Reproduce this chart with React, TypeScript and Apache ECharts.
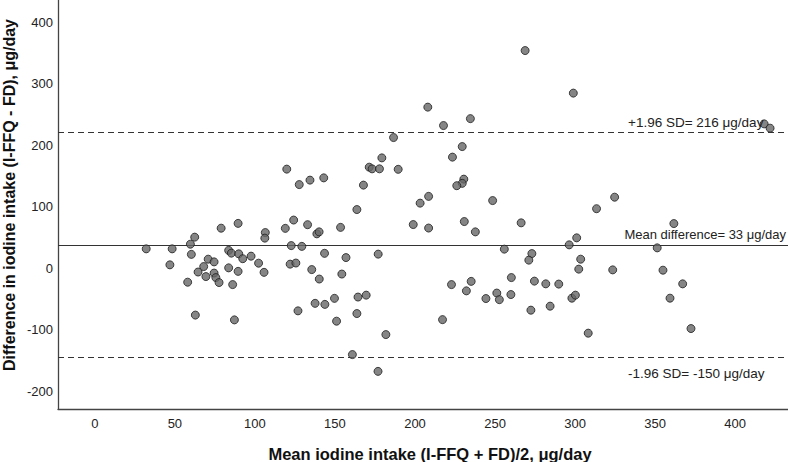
import React, { useEffect, useRef } from "react";
import * as echarts from "echarts";

// Mean iodine intake (x) and difference (y), μg/day
const meanIntake: number[] = [
  32.1, 48.3, 46.9, 58.0, 59.7, 62.4, 60.3, 62.8, 70.8, 74.5,
  68.0, 64.5, 69.4, 74.5, 75.6, 77.6, 78.9, 89.5, 83.6, 85.3,
  89.9, 92.4, 97.6, 102.3, 83.6, 89.5, 105.7, 86.1, 87.2, 106.5,
  106.2, 119.9, 127.7, 134.4, 143.0, 171.4, 173.2, 177.8, 179.3, 189.5,
  167.8, 163.7, 198.9, 119.0, 124.2, 132.9, 138.7, 140.1, 153.5, 122.7,
  129.3, 143.5, 156.9, 177.0, 122.0, 125.6, 135.5, 140.2, 154.3, 126.9,
  137.6, 143.7, 149.7, 164.4, 169.5, 163.7, 151.0, 181.8, 160.9, 176.9,
  186.6, 208.0, 217.8, 234.6, 229.5, 223.4, 230.5, 229.5, 226.1, 208.5,
  203.2, 248.5, 208.5, 230.8, 237.7, 266.3, 255.8, 273.0, 271.1, 296.3,
  301.0, 303.5, 302.3, 222.8, 235.1, 232.1, 244.3, 251.1, 252.7, 260.2,
  259.9, 274.6, 281.7, 289.8, 298.0, 300.2, 272.4, 284.4, 217.2, 308.2,
  313.4, 324.7, 323.5, 351.3, 361.7, 354.9, 367.2, 359.3, 372.4, 268.8,
  298.9, 418.1, 421.8,
];
const difference: number[] = [
  31.4, 31.4, 5.4, -22.8, 39.0, 50.4, 22.4, -76.3, 14.6, 10.2,
  2.6, -6.3, -13.7, -8.0, -15.3, -23.4, 65.0, 72.8, 28.9, 24.4,
  23.3, 15.4, 19.5, 8.1, 0.5, -5.2, -6.8, -26.7, -84.1, 57.9,
  48.8, 161.0, 135.9, 143.1, 146.8, 164.2, 161.5, 161.5, 179.3, 160.7,
  135.0, 95.3, 70.9, 64.7, 78.2, 70.7, 55.8, 59.0, 66.3, 36.7,
  35.4, 24.1, 17.2, 22.8, 6.5, 8.3, -2.3, -17.7, -9.6, -69.4,
  -57.2, -58.9, -49.1, -47.0, -43.9, -73.8, -86.2, -108.0, -140.5, -167.8,
  212.4, 261.8, 231.9, 243.1, 197.7, 180.5, 144.7, 137.9, 134.1, 116.7,
  105.7, 109.9, 65.2, 75.8, 59.0, 73.7, 30.9, 23.7, 13.0, 37.9,
  49.3, 14.6, -1.6, -26.7, -21.5, -36.9, -49.4, -40.5, -51.2, -15.3,
  -42.9, -21.1, -25.5, -25.9, -48.8, -43.9, -68.3, -61.8, -83.7, -105.7,
  96.7, 115.4, -2.8, 33.0, 72.5, -3.3, -25.5, -48.8, -98.2, 353.8,
  284.6, 234.6, 227.6,
];

const xTicks: number[] = [0, 50, 100, 150, 200, 250, 300, 350, 400];
const yTicks: number[] = [-200, -100, 0, 100, 200, 300, 400];

// Reference lines (position as drawn) and their labels
const lineValues: number[] = [220.5, 37.4, -144.5];
const lineTypes: string[] = ["dashed", "solid", "dashed"];
const lineLabels: string[] = [
  "+1.96 SD= 216 μg/day",
  "Mean difference= 33 μg/day",
  "-1.96 SD= -150 μg/day",
];
const labelOffsets: number[] = [-10.5, -10.5, 16.5];

const xTitle = "Mean iodine intake (I-FFQ + FD)/2, μg/day";
const yTitle = "Difference in iodine intake (I-FFQ - FD), μg/day";

const FONT = "'Liberation Sans', Arial, sans-serif";

export default function App() {
  const ref = useRef<HTMLDivElement>(null);

  useEffect(() => {
    if (!ref.current) return;
    const chart = echarts.init(ref.current, null, { renderer: "svg" });
    const points = meanIntake.map((x, i) => [x, difference[i]]);

    chart.setOption({
      animation: false,
      backgroundColor: "#ffffff",
      grid: { left: 58, right: 0, top: 0, bottom: 53, containLabel: false, outerBoundsMode: "none" },
      xAxis: {
        type: "value",
        min: -23,
        max: 433,
        axisLine: { show: true, onZero: false, lineStyle: { color: "#444", width: 1.3 } },
        axisTick: { show: false },
        splitLine: { show: false },
        axisLabel: {
          customValues: xTicks,
          color: "#222",
          fontSize: 13,
          fontFamily: FONT,
          margin: 8,
        },
      },
      yAxis: {
        type: "value",
        min: -229,
        max: 436,
        axisLine: { show: true, onZero: false, lineStyle: { color: "#444", width: 1.3 } },
        axisTick: { show: false },
        splitLine: { show: false },
        axisLabel: {
          customValues: yTicks,
          color: "#222",
          fontSize: 13,
          fontFamily: FONT,
          margin: 5,
        },
      },
      series: [
        {
          type: "scatter",
          data: points,
          symbol: "circle",
          symbolSize: 8,
          itemStyle: { color: "#666666", borderColor: "#1e1e1e", borderWidth: 1 },
          z: 5,
        },
        {
          type: "line",
          data: [],
          markLine: {
            silent: true,
            symbol: "none",
            label: { show: false },
            data: lineValues.map((v, i) => ({
              yAxis: v,
              lineStyle: {
                type: lineTypes[i] === "dashed" ? [6, 4] : "solid",
                color: "#333",
                width: 1.2,
              },
            })),
          },
          z: 2,
        },
      ],
    });

    const texts = lineValues.map((v, i) => {
      const py = chart.convertToPixel({ yAxisIndex: 0 }, v) as number;
      const isMean = i === 1;
      return {
        type: "text",
        x: isMean ? 786 : 628,
        y: py + labelOffsets[i],
        z: 10,
        style: {
          text: lineLabels[i],
          fill: "#222",
          font: `${isMean ? 13 : 13.5}px ${FONT}`,
          textAlign: isMean ? "right" : "left",
          textVerticalAlign: "middle",
        },
      };
    });

    chart.setOption({
      graphic: [
        ...texts,
        {
          type: "text",
          x: 430,
          y: 454,
          style: {
            text: xTitle,
            fill: "#111",
            font: `bold 16.5px ${FONT}`,
            textAlign: "center",
            textVerticalAlign: "middle",
          },
        },
        {
          type: "text",
          x: 9,
          y: 195,
          rotation: Math.PI / 2,
          style: {
            text: yTitle,
            fill: "#111",
            font: `bold 16px ${FONT}`,
            textAlign: "center",
            textVerticalAlign: "middle",
          },
        },
      ],
    });

    return () => chart.dispose();
  }, []);

  return (
    <div
      ref={ref}
      style={{ position: "fixed", left: 0, top: 0, width: 788, height: 462 }}
    />
  );
}
